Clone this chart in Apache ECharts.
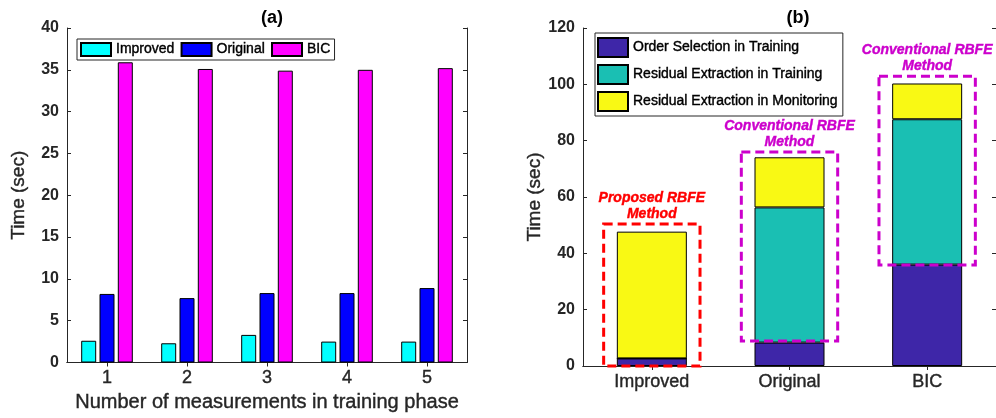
<!DOCTYPE html>
<html>
<head>
<meta charset="utf-8">
<script src="https://cdn.jsdelivr.net/npm/echarts@6/dist/echarts.min.js"></script>
<style>
  html, body { margin: 0; padding: 0; background: #fff; }
  #chart { width: 996px; height: 418px; }
</style>
</head>
<body>
<div id="chart"></div>
<script>
// (a) timing versus number of measurements
const measCategories = ['1', '2', '3', '4', '5'];
const improvedTimes = [2.6, 2.3, 3.3, 2.5, 2.5];
const originalTimes = [8.2, 7.7, 8.3, 8.3, 8.9];
const bicTimes = [35.9, 35.1, 34.9, 35.0, 35.2];

// (b) breakdown of time per method
const methodCategories = ['Improved', 'Original', 'BIC'];
const orderSelection = [2.7, 8.3, 36.0];
const residualTraining = [0, 48.0, 51.6];
const residualMonitoring = [45.0, 17.8, 12.7];

// dashed highlight boxes in (b): [category index, lower value, upper value]
const boxLow = [0, 8.9, 35.9];
const boxHigh = [50.4, 76.0, 102.9];
const boxLabels = ['Proposed RBFE\nMethod', 'Conventional RBFE\nMethod', 'Conventional RBFE\nMethod'];

const FONT = '"Liberation Sans", Arial, Helvetica, sans-serif';
const AXIS_COLOR = '#262626';
const boxColors = ['#ff0000', '#cc00cc', '#cc00cc'];

// a thin outline in the text colour gives the slightly heavier look of the labels
const heavy = { textBorderColor: AXIS_COLOR, textBorderWidth: 0.4 };

const chart = echarts.init(document.getElementById('chart'), null, { renderer: 'canvas' });

function catAxis(gridIndex, data, position, showLabels) {
  return {
    type: 'category',
    gridIndex: gridIndex,
    data: data,
    position: position,
    axisLine: { show: true, lineStyle: { color: AXIS_COLOR, width: 1 } },
    axisTick: { show: true, inside: true, alignWithLabel: true, length: 4, lineStyle: { color: AXIS_COLOR } },
    axisLabel: Object.assign({ show: showLabels, color: AXIS_COLOR, fontSize: 18, fontFamily: FONT, margin: 7 }, heavy),
    splitLine: { show: false }
  };
}

function valAxis(gridIndex, max, interval, position, showLabels, name) {
  return {
    type: 'value',
    gridIndex: gridIndex,
    min: 0,
    max: max,
    interval: interval,
    position: position,
    name: name || '',
    nameLocation: 'middle',
    nameGap: 39,
    nameTextStyle: Object.assign({ color: AXIS_COLOR, fontSize: 19, fontFamily: FONT }, heavy),
    axisLine: { show: true, lineStyle: { color: AXIS_COLOR, width: 1 } },
    axisTick: { show: true, inside: true, length: 4, lineStyle: { color: AXIS_COLOR } },
    axisLabel: { show: showLabels, color: AXIS_COLOR, fontSize: 16, fontWeight: 'bold', fontFamily: FONT, margin: 8 },
    splitLine: { show: false }
  };
}

const barBorder = { borderColor: '#000', borderWidth: 1 };

const option = {
  backgroundColor: '#ffffff',
  animation: false,
  textStyle: { fontFamily: FONT },
  title: [
    { text: '(a)', left: 267, top: 4, textAlign: 'center',
      textStyle: { fontSize: 18, fontWeight: 'bold', color: '#000', fontFamily: FONT } },
    { text: '(b)', left: 793, top: 4, textAlign: 'center',
      textStyle: { fontSize: 18, fontWeight: 'bold', color: '#000', fontFamily: FONT } }
  ],
  grid: [
    { left: 67, top: 28, width: 400, height: 339 },
    { left: 583, top: 28, width: 420, height: 338 }
  ],
  legend: [
    {
      data: ['Improved', 'Original', 'BIC'],
      orient: 'horizontal',
      left: 77, top: 39,
      padding: [3, 4, 3, 3],
      itemWidth: 30, itemHeight: 13, itemGap: 6,
      icon: 'rect',
      backgroundColor: '#fff',
      borderColor: AXIS_COLOR, borderWidth: 1, borderRadius: 0,
      textStyle: { fontSize: 14, color: '#000', fontFamily: FONT, lineHeight: 14,
        textBorderColor: '#000', textBorderWidth: 0.4 }
    },
    {
      data: ['Order Selection in Training', 'Residual Extraction in Training', 'Residual Extraction in Monitoring'],
      orient: 'vertical',
      left: 595, top: 33,
      padding: [4, 5, 4, 2],
      itemWidth: 30, itemHeight: 19, itemGap: 6,
      icon: 'rect',
      backgroundColor: '#fff',
      borderColor: AXIS_COLOR, borderWidth: 1, borderRadius: 0,
      textStyle: { fontSize: 14, color: '#000', fontFamily: FONT,
        textBorderColor: '#000', textBorderWidth: 0.4 }
    }
  ],
  xAxis: [
    Object.assign(catAxis(0, measCategories, 'bottom', true), {
      name: 'Number of measurements in training phase',
      nameLocation: 'middle',
      nameGap: 24,
      nameTextStyle: Object.assign({ color: AXIS_COLOR, fontSize: 20, fontFamily: FONT }, heavy)
    }),
    catAxis(0, measCategories, 'top', false),
    catAxis(1, methodCategories, 'bottom', true),
    catAxis(1, methodCategories, 'top', false)
  ],
  yAxis: [
    valAxis(0, 40, 5, 'left', true, 'Time (sec)'),
    valAxis(0, 40, 5, 'right', false),
    valAxis(1, 120, 20, 'left', true, 'Time (sec)'),
    valAxis(1, 120, 20, 'right', false)
  ],
  series: [
    { name: 'Improved', type: 'bar', xAxisIndex: 0, yAxisIndex: 0, data: improvedTimes,
      barWidth: 15, barGap: '22%', itemStyle: Object.assign({ color: '#00ffff' }, barBorder) },
    { name: 'Original', type: 'bar', xAxisIndex: 0, yAxisIndex: 0, data: originalTimes,
      barWidth: 15, barGap: '22%', itemStyle: Object.assign({ color: '#0000ff' }, barBorder) },
    { name: 'BIC', type: 'bar', xAxisIndex: 0, yAxisIndex: 0, data: bicTimes,
      barWidth: 15, barGap: '22%', itemStyle: Object.assign({ color: '#ff00ff' }, barBorder) },

    { name: 'Order Selection in Training', type: 'bar', stack: 'total', xAxisIndex: 2, yAxisIndex: 2,
      data: orderSelection, barWidth: 70, itemStyle: Object.assign({ color: '#3e26a8' }, barBorder) },
    { name: 'Residual Extraction in Training', type: 'bar', stack: 'total', xAxisIndex: 2, yAxisIndex: 2,
      data: residualTraining, barWidth: 70, itemStyle: Object.assign({ color: '#1abfb3' }, barBorder) },
    { name: 'Residual Extraction in Monitoring', type: 'bar', stack: 'total', xAxisIndex: 2, yAxisIndex: 2,
      data: residualMonitoring, barWidth: 70, itemStyle: Object.assign({ color: '#f9f914' }, barBorder) },

    {
      // dashed outlines with captions around each method's bar
      type: 'custom',
      xAxisIndex: 2, yAxisIndex: 2,
      z: 10,
      clip: false,
      silent: true,
      data: boxLow.map((lo, i) => [i, lo, boxHigh[i]]),
      renderItem: function (params, api) {
        const i = params.dataIndex;
        const top = api.coord([api.value(0), api.value(2)]);
        const bottom = api.coord([api.value(0), api.value(1)]);
        const band = api.size([1, 0])[0];
        const halfW = band * 0.35;
        const color = boxColors[i];
        return {
          type: 'group',
          children: [
            {
              type: 'rect',
              shape: { x: top[0] - halfW, y: top[1], width: halfW * 2, height: bottom[1] - top[1] },
              style: { fill: 'none', stroke: color, lineWidth: 3, lineDash: [9, 5] }
            },
            {
              type: 'text',
              x: top[0], y: top[1] - 2,
              style: {
                text: boxLabels[i],
                fill: color,
                font: 'italic bold 14px ' + FONT,
                align: 'center',
                verticalAlign: 'bottom',
                lineHeight: 16,
                stroke: color,
                lineWidth: 0.4
              }
            }
          ]
        };
      }
    }
  ]
};

chart.setOption(option);
</script>
</body>
</html>
